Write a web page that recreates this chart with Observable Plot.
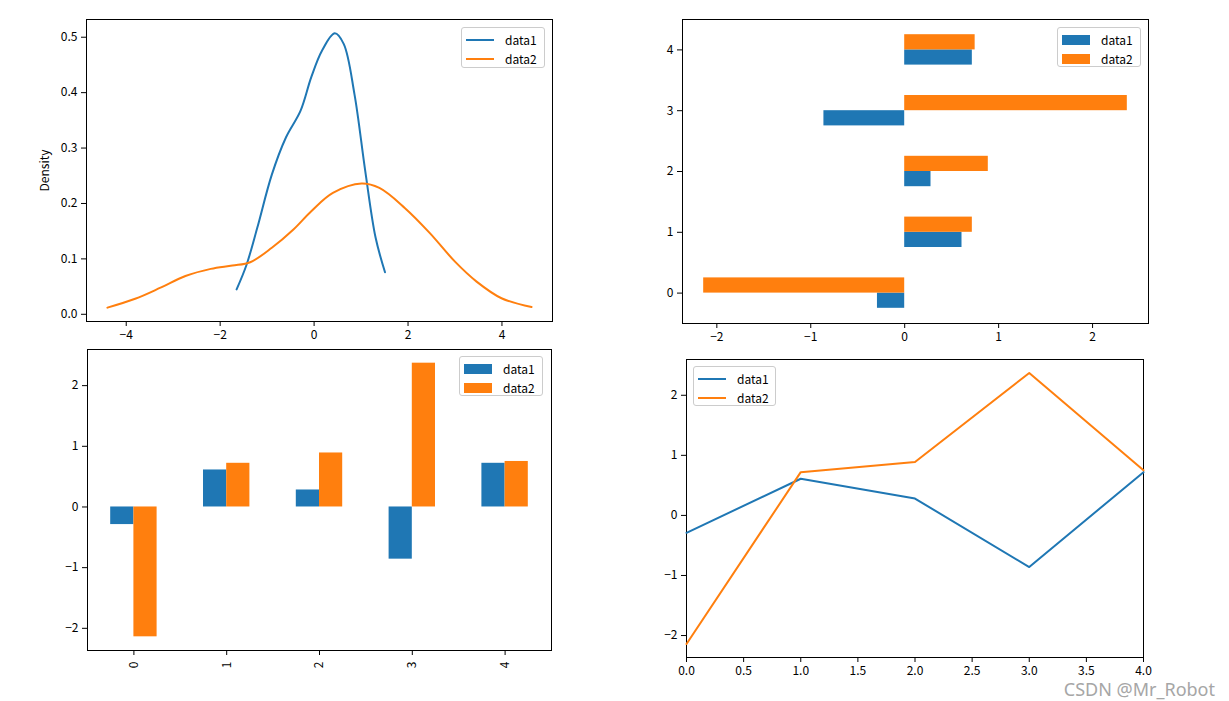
<!DOCTYPE html>
<html>
<head>
<meta charset="utf-8">
<script src="https://cdn.jsdelivr.net/npm/d3@7"></script>
<script src="https://cdn.jsdelivr.net/npm/@observablehq/plot@0.6"></script>
<style>
  body { margin: 0; background: #fff; }
  #page { position: relative; width: 1229px; height: 701px; overflow: hidden; background: #fff;
          font-family: "Noto Sans CJK SC", "DejaVu Sans", sans-serif; }
  .panel { position: absolute; }
  .legend { position: absolute; background: rgba(255,255,255,0.8); border: 1px solid #cccccc;
            border-radius: 3px; box-sizing: border-box; font-size: 12px; color: #000; }
  .legend .row { position: absolute; left: 0; right: 0; height: 14px; }
  .legend .sw { position: absolute; }
  .legend .lab { position: absolute; line-height: 14px; top: 0; }
  #wm { position: absolute; right: 14px; top: 680px; font-family: "Noto Sans", sans-serif;
        font-size: 18px; line-height: 19px; color: #a6a6a6; }
</style>
</head>
<body>
<div id="page"></div>
<script>
// ---- data ----
const index = [0, 1, 2, 3, 4];
const seriesNames = ["data1", "data2"];
const seriesColors = ["#1f77b4", "#ff7f0e"];
const data1 = [-0.29, 0.61, 0.28, -0.86, 0.72];
const data2 = [-2.14, 0.72, 0.89, 2.37, 0.75];

// density curves as drawn
const kdeX1 = [-1.65, -1.44, -1.21, -0.90, -0.60, -0.29, -0.06, 0.17, 0.44, 0.63, 0.86, 1.09, 1.31, 1.51];
const kdeY1 = [0.045, 0.089, 0.156, 0.252, 0.319, 0.367, 0.428, 0.476, 0.507, 0.488, 0.397, 0.258, 0.138, 0.076];
const kdeX2 = [-4.40, -3.81, -3.27, -2.74, -2.20, -1.74, -1.36, -0.90, -0.44, -0.06, 0.40, 1.01, 1.39, 1.93, 2.46, 3.00, 3.46, 3.99, 4.63];
const kdeY2 = [0.012, 0.028, 0.048, 0.069, 0.082, 0.088, 0.094, 0.120, 0.153, 0.186, 0.219, 0.236, 0.228, 0.192, 0.147, 0.095, 0.059, 0.029, 0.013];

// tick labels
const densityXTicks = [-4, -2, 0, 2, 4];
const densityYTicks = [0.0, 0.1, 0.2, 0.3, 0.4, 0.5];
const valueTicks = [-2, -1, 0, 1, 2];
const lineXTicks = [0, 0.5, 1, 1.5, 2, 2.5, 3, 3.5, 4];

// ---- derived tables ----
const long = index.flatMap(i => [
  {i, series: "data1", k: 0, v: data1[i]},
  {i, series: "data2", k: 1, v: data2[i]}
]);
const kde1 = kdeX1.map((x, j) => ({x, y: kdeY1[j], series: "data1"}));
const kde2 = kdeX2.map((x, j) => ({x, y: kdeY2[j], series: "data2"}));

const page = document.getElementById("page");
const FONT = "\"Noto Sans CJK SC\", \"DejaVu Sans\", sans-serif";
const colorScale = {domain: seriesNames, range: seriesColors};
const intFmt = d3.format("d");
const minusInt = d => intFmt(d).replace("-", "\u2212");
const oneDec = d => d3.format(".1f")(d).replace("-", "\u2212");

function place(el, box) {
  const wrap = document.createElement("div");
  wrap.className = "panel";
  wrap.style.left = box[0] + "px";
  wrap.style.top = box[1] + "px";
  wrap.style.width = (box[2] - box[0]) + "px";
  wrap.style.height = (box[3] - box[1]) + "px";
  wrap.appendChild(el);
  page.appendChild(wrap);
}
function common(box, frame) {
  return {
    width: box[2] - box[0],
    height: box[3] - box[1],
    marginLeft: frame[0] - box[0],
    marginTop: frame[1] - box[1],
    marginRight: box[2] - frame[2],
    marginBottom: box[3] - frame[3],
    style: {background: "transparent", fontSize: "12px", fontFamily: FONT, color: "#000", overflow: "visible"}
  };
}
function legend(pos, kind) {
  const lg = document.createElement("div");
  lg.className = "legend";
  lg.style.left = pos[0] + "px"; lg.style.top = pos[1] + "px";
  lg.style.width = pos[2] + "px"; lg.style.height = pos[3] + "px";
  seriesNames.forEach((name, j) => {
    const row = document.createElement("div");
    row.className = "row";
    row.style.top = (5 + j * 19) + "px";
    const sw = document.createElement("div");
    sw.className = "sw";
    sw.style.left = "4px"; sw.style.width = "28px";
    sw.style.background = seriesColors[j];
    if (kind === "line") { sw.style.top = "6px"; sw.style.height = "2px"; }
    else { sw.style.top = "2px"; sw.style.height = "10px"; }
    const lab = document.createElement("div");
    lab.className = "lab";
    lab.style.left = "43px";
    lab.textContent = name;
    row.appendChild(sw); row.appendChild(lab);
    lg.appendChild(row);
  });
  page.appendChild(lg);
}

// ---- panel 1: density ----
{
  const box = [0, 0, 614, 345], frame = [86, 19, 552, 321];
  const p = Plot.plot({
    ...common(box, frame),
    x: {domain: [-4.846, 5.076]},
    y: {domain: [-0.013, 0.532]},
    color: colorScale,
    marks: [
      Plot.frame({stroke: "#000", strokeWidth: 1}),
      Plot.line(kde1, {x: "x", y: "y", stroke: "series", strokeWidth: 2, curve: "catmull-rom"}),
      Plot.line(kde2, {x: "x", y: "y", stroke: "series", strokeWidth: 2, curve: "catmull-rom"}),
      Plot.axisX({ticks: densityXTicks, tickSize: 5, tickPadding: 4, tickFormat: minusInt, label: null}),
      Plot.axisY({ticks: densityYTicks, tickSize: 5, tickPadding: 4, tickFormat: oneDec,
                  label: "Density", labelAnchor: "center", labelArrow: "none", labelOffset: 46})
    ]
  });
  place(p, box);
  legend([461, 27, 84, 41], "line");
}

// ---- panel 2: horizontal bars ----
{
  const box = [614, 0, 1229, 345], frame = [682, 19, 1148, 323];
  const p = Plot.plot({
    ...common(box, frame),
    x: {domain: [-2.3655, 2.5955]},
    y: {domain: [-0.5, 4.5]},
    color: colorScale,
    marks: [
      Plot.rectX(long, {x1: 0, x2: "v", y1: d => d.i - 0.25 + d.k * 0.25, y2: d => d.i + d.k * 0.25, fill: "series"}),
      Plot.frame({stroke: "#000", strokeWidth: 1}),
      Plot.axisX({ticks: valueTicks, tickSize: 5, tickPadding: 4, tickFormat: minusInt, label: null}),
      Plot.axisY({ticks: index, tickSize: 5, tickPadding: 4, tickFormat: minusInt, label: null})
    ]
  });
  place(p, box);
  legend([1057, 27, 84, 40], "bar");
}

// ---- panel 3: vertical bars ----
{
  const box = [0, 345, 614, 701], frame = [87, 349, 551, 650];
  const p = Plot.plot({
    ...common(box, frame),
    x: {domain: [-0.5, 4.5]},
    y: {domain: [-2.3655, 2.5955]},
    color: colorScale,
    marks: [
      Plot.rectY(long, {y1: 0, y2: "v", x1: d => d.i - 0.25 + d.k * 0.25, x2: d => d.i + d.k * 0.25, fill: "series"}),
      Plot.frame({stroke: "#000", strokeWidth: 1}),
      Plot.axisX({ticks: index, tickSize: 5, tickPadding: 6, tickRotate: -90, tickFormat: minusInt, label: null}),
      Plot.axisY({ticks: valueTicks, tickSize: 5, tickPadding: 4, tickFormat: minusInt, label: null})
    ]
  });
  place(p, box);
  legend([459, 356, 84, 40], "bar");
}

// ---- panel 4: lines ----
{
  const box = [614, 345, 1229, 701], frame = [686, 359, 1143, 657];
  const p = Plot.plot({
    ...common(box, frame),
    x: {domain: [0, 4]},
    y: {domain: [-2.3655, 2.5955]},
    color: colorScale,
    marks: [
      Plot.frame({stroke: "#000", strokeWidth: 1}),
      Plot.line(long, {x: "i", y: "v", z: "series", stroke: "series", strokeWidth: 2}),
      Plot.axisX({ticks: lineXTicks, tickSize: 5, tickPadding: 4, tickFormat: oneDec, label: null}),
      Plot.axisY({ticks: valueTicks, tickSize: 5, tickPadding: 4, tickFormat: minusInt, label: null})
    ]
  });
  place(p, box);
  legend([693, 366, 83, 40], "line");
}

// watermark
const wm = document.createElement("div");
wm.id = "wm";
wm.textContent = "CSDN @Mr_Robot";
page.appendChild(wm);
</script>
</body>
</html>
